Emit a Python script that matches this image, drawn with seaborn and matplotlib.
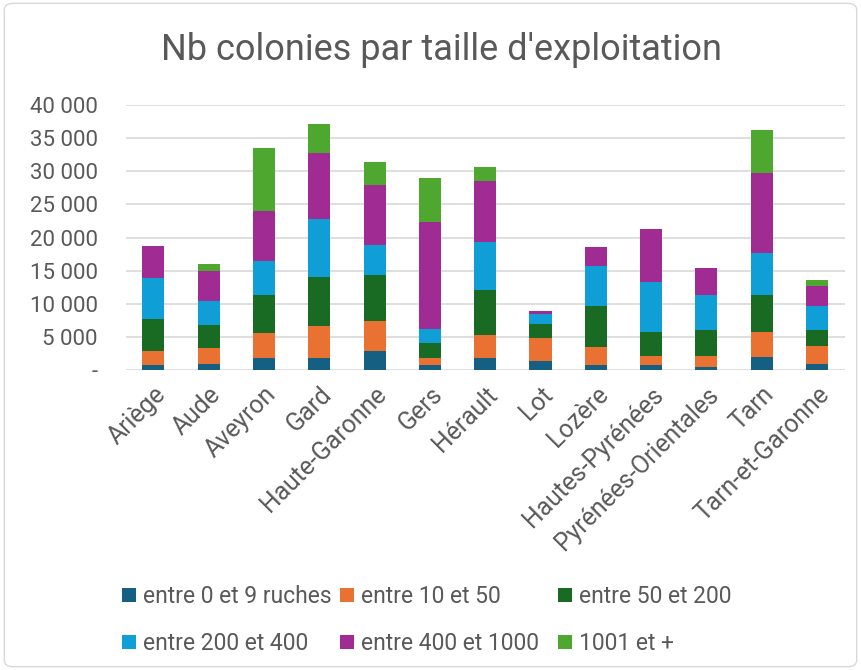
import matplotlib
matplotlib.use("Agg")
import matplotlib.pyplot as plt
import seaborn as sns
import pandas as pd
import numpy as np
from matplotlib.ticker import FuncFormatter
from matplotlib.patches import FancyBboxPatch, Patch

# departements
departements = ["Ariège", "Aude", "Aveyron", "Gard", "Haute-Garonne", "Gers",
                "Hérault", "Lot", "Lozère", "Hautes-Pyrénées",
                "Pyrénées-Orientales", "Tarn", "Tarn-et-Garonne"]

# nb colonies per farm size
r_0_9 = [660, 860, 1820, 1720, 2830, 660, 1720, 1410, 660, 660, 500, 1920, 860]
r_10_50 = [2220, 2370, 3735, 4950, 4595, 1160, 3535, 3385, 2775, 1465, 1615, 3790, 2775]
r_50_200 = [4850, 3535, 5810, 7325, 6920, 2220, 6765, 2120, 6160, 3535, 3840, 5555, 2425]
r_200_400 = [6210, 3585, 5050, 8735, 4545, 2120, 7325, 1465, 6060, 7625, 5355, 6365, 3535]
r_400_1000 = [4850, 4545, 7575, 10050, 9040, 16210, 9190, 455, 2980, 7930, 4040, 12120, 3030]
r_1001 = [0, 1160, 9495, 4395, 3535, 6665, 2120, 0, 0, 0, 0, 6465, 1010]

series_names = ["entre 0 et 9 ruches", "entre 10 et 50", "entre 50 et 200",
                "entre 200 et 400", "entre 400 et 1000", "1001 et +"]
colors = ["#156082", "#E97132", "#196B24", "#0F9ED5", "#A02B93", "#4EA72E"]

df = pd.DataFrame({"dep": departements})
layers = [r_0_9, r_10_50, r_50_200, r_200_400, r_400_1000, r_1001]
cum = np.cumsum(np.array(layers), axis=0)

plt.rcParams["font.family"] = ["Roboto", "DejaVu Sans"]
fig = plt.figure(figsize=(8.61, 6.70), dpi=100)
ax = fig.add_axes([0.146, 0.448, 0.835, 0.395])

# stacking: draw cumulative totals from the top layer down
for i in range(5, -1, -1):
    df["val"] = cum[i]
    sns.barplot(data=df, x="dep", y="val", color=colors[i], width=0.4,
                saturation=1, edgecolor="none", ax=ax, zorder=3 + (5 - i))

ax.set_ylim(0, 40000)
ax.set_yticks(range(0, 40001, 5000))
ax.yaxis.set_major_formatter(FuncFormatter(
    lambda v, p: "-" if v == 0 else f"{int(v):,}".replace(",", " ")))
ax.grid(axis="y", color="#D9D9D9", linewidth=1.2, zorder=0)
ax.set_axisbelow(True)
for s in ax.spines.values():
    s.set_visible(False)
ax.tick_params(length=0, colors="#595959")
ax.tick_params(axis="y", labelsize=16, pad=20)
ax.tick_params(axis="x", labelsize=17.8, pad=9)
plt.setp(ax.get_xticklabels(), rotation=45, ha="right", rotation_mode="anchor")
ax.set_xlabel("")
ax.set_ylabel("")

fig.text(0.513, 0.925, "Nb colonies par taille d'exploitation", ha="center",
         va="center", fontsize=26, color="#595959")

# legend: 3 columns of equal width, 2 rows each
handles = [Patch(facecolor=c, edgecolor="none") for c in colors]
col_x = [122, 340, 558]
for c in range(3):
    leg = fig.legend([handles[c], handles[c + 3]],
                     [series_names[c], series_names[c + 3]],
                     loc="upper left", bbox_to_anchor=(col_x[c] / 861, 0.127),
                     frameon=False, fontsize=16.5, labelcolor="#595959",
                     handlelength=0.6, handleheight=0.6, handletextpad=0.3,
                     labelspacing=1.05, borderpad=0, borderaxespad=0)

fig.patches.append(FancyBboxPatch((0.005, 0.005), 0.99, 0.99,
                                  boxstyle="round,pad=0,rounding_size=0.01",
                                  transform=fig.transFigure, fill=False,
                                  edgecolor="#D9D9D9", linewidth=1))

fig.savefig("out.png", dpi=100)
